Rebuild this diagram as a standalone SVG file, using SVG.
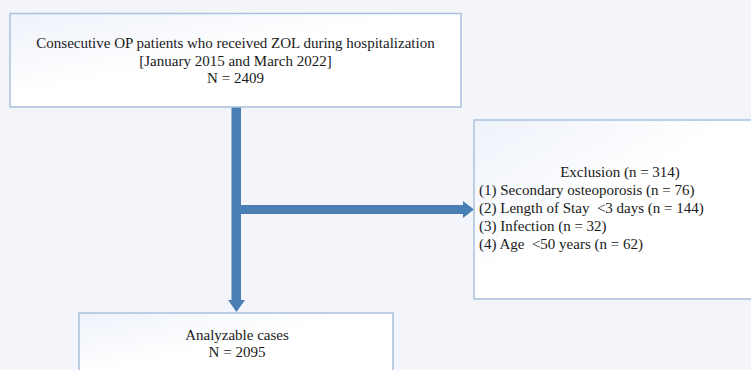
<svg xmlns="http://www.w3.org/2000/svg" width="751" height="370" viewBox="0 0 751 370">
<defs>
<linearGradient id="g" x1="0" y1="0" x2="1" y2="1">
<stop offset="0" stop-color="#eef2fa"/>
<stop offset="0.45" stop-color="#ffffff"/>
<stop offset="1" stop-color="#ffffff"/>
</linearGradient>
<style>
.box{fill:url(#g);stroke:#a9c1dc;stroke-width:1.5}
.t{font-family:"Liberation Serif","Times New Roman",serif;font-size:15px;fill:#1a1a1a;white-space:pre}
.c{text-anchor:middle}
.arr{fill:#4a7fb6}
</style>
</defs>
<rect width="751" height="370" fill="#f3f5fa"/>
<g id="connectors">
<rect class="arr" x="231.5" y="107" width="9.5" height="194"/>
<polygon class="arr" points="228,300 245,300 236.5,312"/>
<rect class="arr" x="241" y="205" width="223" height="9"/>
<polygon class="arr" points="463,201 474,209.5 463,218"/>
</g>
<g id="n1">
<rect class="box" x="10" y="13.5" width="451" height="93.5"/>
<text class="t c" x="235.5" y="48">Consecutive OP patients who received ZOL during hospitalization</text>
<text class="t c" x="235.5" y="66">[January 2015 and March 2022]</text>
<text class="t c" x="235.5" y="83">N = 2409</text>
</g>
<g id="n2">
<rect class="box" x="474" y="120" width="290" height="179"/>
<text class="t c" x="620" y="177">Exclusion (n = 314)</text>
<text class="t" x="479" y="195" xml:space="preserve">(1) Secondary osteoporosis (n = 76)</text>
<text class="t" x="479" y="213" xml:space="preserve">(2) Length of Stay  &lt;3 days (n = 144)</text>
<text class="t" x="479" y="231" xml:space="preserve">(3) Infection (n = 32)</text>
<text class="t" x="479" y="249" xml:space="preserve">(4) Age  &lt;50 years (n = 62)</text>
</g>
<g id="n3">
<rect class="box" x="79" y="313" width="314" height="70"/>
<text class="t c" x="237" y="340">Analyzable cases</text>
<text class="t c" x="237" y="357">N = 2095</text>
</g>
</svg>
